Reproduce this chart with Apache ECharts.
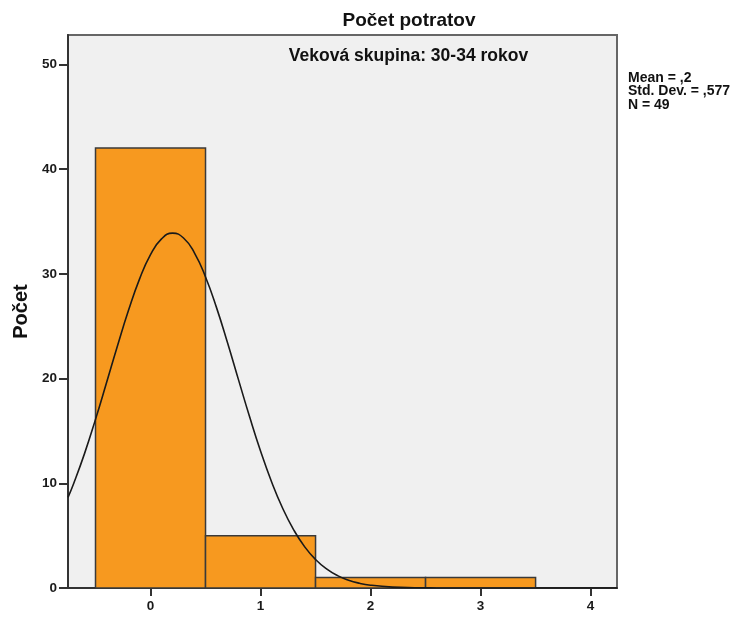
<!DOCTYPE html>
<html>
<head>
<meta charset="utf-8">
<script src="https://cdn.jsdelivr.net/npm/echarts@6/dist/echarts.min.js"></script>
<style>
  html, body { margin: 0; padding: 0; background: #ffffff; }
  #chart { width: 737px; height: 617px; }
</style>
</head>
<body>
<div id="chart"></div>
<script>
// Histogram of abortion counts (age group 30-34), with the fitted normal curve
const binCenters = [0, 1, 2, 3];
const binCounts = [42, 5, 1, 1];

// Normal curve values (x, frequency)
const curveX = [-0.75, -0.7, -0.6, -0.5, -0.4, -0.3, -0.2, -0.1, 0, 0.1, 0.2, 0.3, 0.4, 0.5, 0.6, 0.7, 0.8, 0.9, 1.0, 1.1, 1.2, 1.3, 1.4, 1.5, 1.6, 1.7, 1.8, 1.9, 2.0, 2.2, 2.4, 2.6, 2.8, 3.0, 3.5, 4.24];
const curveY = [8.65, 9.93, 12.83, 16.10, 19.59, 23.13, 26.51, 29.49, 31.83, 33.33, 33.88, 33.42, 31.98, 29.70, 26.77, 23.41, 19.87, 16.37, 13.08, 10.15, 7.64, 5.58, 3.95, 2.72, 1.82, 1.18, 0.74, 0.45, 0.27, 0.085, 0.024, 0.006, 0.001, 0, 0, 0];

const xTickLabels = [0, 1, 2, 3, 4];
const statLines = ['Mean = ,2', 'Std. Dev. = ,577', 'N = 49'];

const titleText = 'Počet potratov';
const panelText = 'Veková skupina: 30-34 rokov';
const yAxisName = 'Počet';

const FONT = '"Liberation Sans", Arial, sans-serif';

const chart = echarts.init(document.getElementById('chart'), null, { renderer: 'canvas' });

const axisLabelStyle = { color: '#1a1a1a', fontFamily: FONT, fontWeight: 'bold', fontSize: 13.5 };

const option = {
  animation: false,
  backgroundColor: '#ffffff',
  grid: {
    left: 68, right: 120, top: 35, bottom: 29,
    outerBoundsMode: 'none',
    show: true,
    backgroundColor: '#f0f0f0',
    borderColor: '#666666',
    borderWidth: 2
  },
  xAxis: {
    type: 'value',
    min: -0.75,
    max: 4.24,
    splitLine: { show: false },
    axisLine: { show: true, onZero: false, lineStyle: { color: '#333', width: 2 } },
    axisTick: { show: true, length: 8, customValues: xTickLabels, lineStyle: { color: '#333', width: 2 } },
    axisLabel: Object.assign({ customValues: xTickLabels, margin: 11 }, axisLabelStyle)
  },
  yAxis: {
    type: 'value',
    min: 0,
    max: 52.8,
    interval: 10,
    name: yAxisName,
    nameLocation: 'middle',
    nameGap: 37,
    nameRotate: 90,
    nameTextStyle: { color: '#111', fontFamily: FONT, fontWeight: 'bold', fontSize: 20 },
    splitLine: { show: false },
    axisLine: { show: true, onZero: false, lineStyle: { color: '#333', width: 2 } },
    axisTick: { show: true, length: 9, lineStyle: { color: '#333', width: 2 } },
    axisLabel: Object.assign({ margin: 11, showMaxLabel: false }, axisLabelStyle)
  },
  series: [
    {
      type: 'custom',
      data: binCenters.map((c, i) => [c, binCounts[i]]),
      renderItem: function (params, api) {
        const c = api.value(0);
        const v = api.value(1);
        const p1 = api.coord([c - 0.5, v]);
        const p2 = api.coord([c + 0.5, 0]);
        return {
          type: 'rect',
          shape: { x: p1[0], y: p1[1], width: p2[0] - p1[0], height: p2[1] - p1[1] },
          style: { fill: '#f7991f', stroke: '#3a3a3a', lineWidth: 1.5 }
        };
      },
      z: 2
    },
    {
      type: 'line',
      data: curveX.map((x, i) => [x, curveY[i]]),
      smooth: true,
      showSymbol: false,
      lineStyle: { color: '#1a1a1a', width: 1.6 },
      z: 3
    }
  ],
  graphic: [
    {
      type: 'text',
      x: 409, y: 20.5,
      style: { text: titleText, fill: '#111', font: 'bold 19px ' + FONT, align: 'center', verticalAlign: 'middle' }
    },
    {
      type: 'text',
      x: 408.5, y: 56.5,
      style: { text: panelText, fill: '#111', font: 'bold 17.5px ' + FONT, align: 'center', verticalAlign: 'middle' }
    }
  ].concat(statLines.map((line, i) => ({
    type: 'text',
    x: 628, y: 78 + i * 13.5,
    style: { text: line, fill: '#111', font: 'bold 14px ' + FONT, align: 'left', verticalAlign: 'middle' }
  })))
};

chart.setOption(option);
</script>
</body>
</html>
